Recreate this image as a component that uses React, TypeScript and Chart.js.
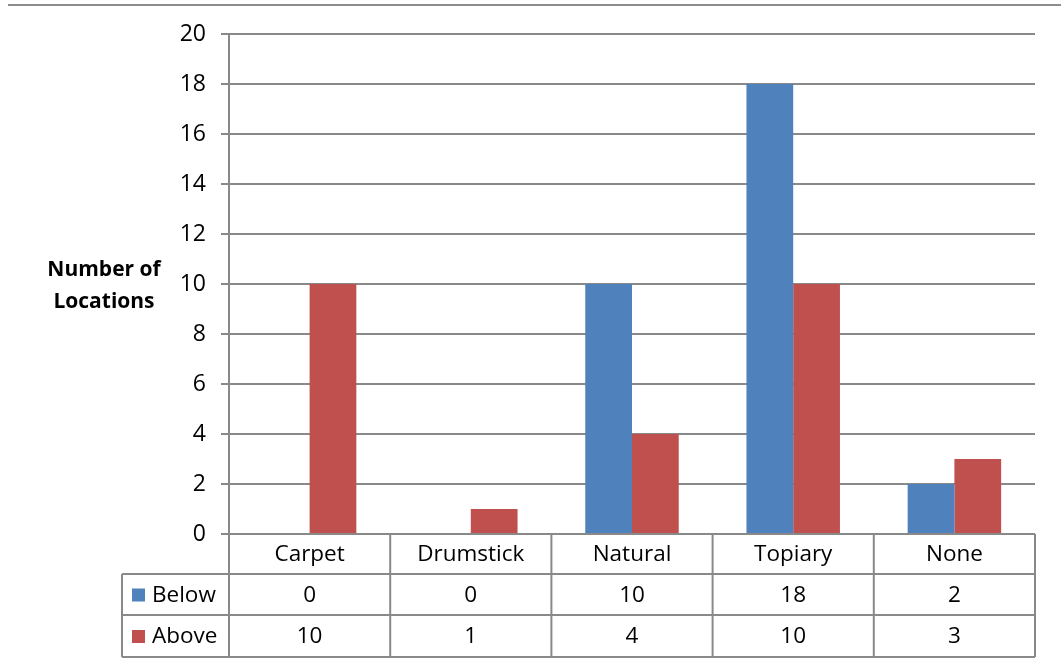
import React, { useEffect, useRef } from "react";
import { Chart, registerables } from "chart.js";

Chart.register(...registerables);

const categories = ["Carpet", "Drumstick", "Natural", "Topiary", "None"];
const belowValues = [0, 0, 10, 18, 2];
const aboveValues = [10, 1, 4, 10, 3];
const seriesNames = ["Below", "Above"];
const seriesColors = ["#4F81BD", "#C0504D"];
const yTitleLines = ["Number of", "Locations"];

const FONT = "'Open Sans', 'Noto Sans', sans-serif";
const LINE = "#898989";

// Draws the frame line, the horizontal axis title and the data table under the plot
const tablePlugin = {
  id: "dataTable",
  afterDraw(chart: any) {
    const { ctx, chartArea, scales } = chart;
    const x = scales.x;
    const left = chartArea.left;
    const right = chartArea.right;
    const bottom = chartArea.bottom;
    const rowH = [40, 41, 42];
    const rows = [bottom, bottom + rowH[0], bottom + rowH[0] + rowH[1], bottom + rowH[0] + rowH[1] + rowH[2]];
    const legendLeft = 122;
    const n = categories.length;
    const catW = (right - left) / n;

    ctx.save();
    // top frame line
    ctx.strokeStyle = "#8c8c8c";
    ctx.lineWidth = 2;
    ctx.beginPath();
    ctx.moveTo(8, 5);
    ctx.lineTo(chart.width, 5);
    ctx.stroke();

    // axis title
    ctx.fillStyle = "#000";
    ctx.font = `bold 21px ${FONT}`;
    ctx.textAlign = "center";
    ctx.textBaseline = "middle";
    yTitleLines.forEach((t, i) => ctx.fillText(t, 104, 270 + i * 32));

    // table grid
    ctx.strokeStyle = LINE;
    ctx.lineWidth = 2;
    ctx.beginPath();
    for (let r = 1; r < rows.length; r++) {
      ctx.moveTo(legendLeft, rows[r]);
      ctx.lineTo(right, rows[r]);
    }
    ctx.moveTo(legendLeft, rows[1]);
    ctx.lineTo(legendLeft, rows[3]);
    for (let i = 0; i <= n; i++) {
      const px = left + i * catW;
      ctx.moveTo(px, bottom);
      ctx.lineTo(px, rows[3]);
    }
    ctx.stroke();

    // category labels and values
    ctx.font = `22.5px ${FONT}`;
    ctx.fillStyle = "#000";
    ctx.textAlign = "center";
    const seriesValues = [belowValues, aboveValues];
    categories.forEach((c, i) => {
      const cx = x.getPixelForValue(i);
      ctx.fillText(c, cx, (rows[0] + rows[1]) / 2 + 1);
      seriesValues.forEach((vals, s) => {
        ctx.fillText(String(vals[i]), cx, (rows[s + 1] + rows[s + 2]) / 2 + 1);
      });
    });

    // legend keys
    ctx.textAlign = "left";
    seriesNames.forEach((name, s) => {
      const cy = (rows[s + 1] + rows[s + 2]) / 2;
      ctx.fillStyle = seriesColors[s];
      ctx.fillRect(132, cy - 6, 13, 13);
      ctx.fillStyle = "#000";
      ctx.fillText(name, 152, cy + 1);
    });
    ctx.restore();
  },
};

export default function App() {
  const ref = useRef<HTMLCanvasElement | null>(null);

  useEffect(() => {
    if (!ref.current) return;
    const chart = new Chart(ref.current, {
      type: "bar",
      data: {
        labels: categories,
        datasets: [
          { label: seriesNames[0], data: belowValues, backgroundColor: seriesColors[0] },
          { label: seriesNames[1], data: aboveValues, backgroundColor: seriesColors[1] },
        ],
      },
      options: {
        animation: false,
        responsive: false,
        layout: { padding: { top: 34, bottom: 135, right: 26, left: 0 } },
        plugins: { legend: { display: false }, tooltip: { enabled: false } },
        datasets: { bar: { categoryPercentage: 0.58, barPercentage: 1 } },
        scales: {
          x: { display: false },
          y: {
            min: 0,
            max: 20,
            ticks: { stepSize: 2, color: "#000", font: { family: FONT, size: 23 }, padding: 15 },
            grid: { color: LINE, lineWidth: 2, tickLength: 8 },
            border: { color: LINE, width: 2 },
            afterFit(scale: any) {
              scale.width = 229;
            },
          },
        },
      },
      plugins: [tablePlugin],
    });
    return () => chart.destroy();
  }, []);

  return (
    <div style={{ position: "fixed", left: 0, top: 0, width: 1061, height: 669, background: "#fff" }}>
      <canvas ref={ref} width={1061} height={669} />
    </div>
  );
}
